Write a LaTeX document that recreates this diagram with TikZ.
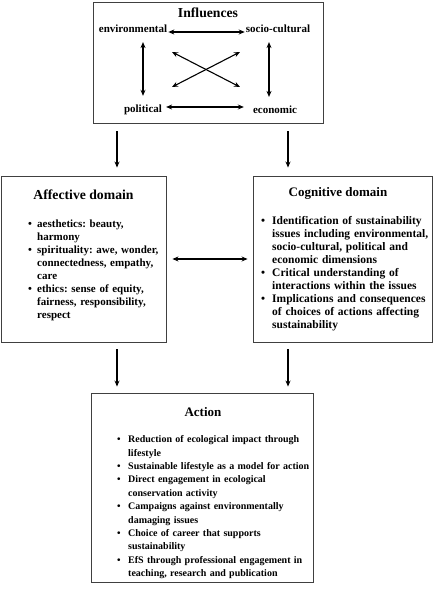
\documentclass[tikz,border=0pt]{standalone}
\usepackage{fontspec}
\setmainfont{Liberation Serif}
\usetikzlibrary{arrows.meta}
\newcommand\litem[1]{\par\noindent\llap{\makebox[\leftskip][l]{\textbullet}}#1\par}
\tikzset{
  boxshape/.style={draw=black!75, line width=0.9pt, inner sep=0pt, fill=white},
  titletext/.style={font=\fontsize{13.7}{16}\selectfont\bfseries, inner sep=0pt},
  labeltext/.style={font=\fontsize{11}{13}\selectfont\bfseries, inner sep=1pt},
  listtext/.style={inner sep=0pt, anchor=north west, text width=220pt,
    execute at begin node={\raggedright\leftskip=#1\relax\frenchspacing\hyphenpenalty=10000\parindent=0pt}},
  tip/.style={line width=1.1pt, -{Stealth[length=6pt,width=5pt]}},
  bitip/.style={line width=1.1pt, {Stealth[length=6pt,width=5pt]}-{Stealth[length=6pt,width=5pt]}}
}
\begin{document}
\begin{tikzpicture}[x=1pt,y=-1pt]
\useasboundingbox (0,0) rectangle (434,593);
% boxes
\node[boxshape, minimum width=230pt, minimum height=121pt] (inf) at (208,62.5) {};
\node[boxshape, minimum width=165pt, minimum height=166pt] (aff) at (83.5,259) {};
\node[boxshape, minimum width=179pt, minimum height=166pt] (cog) at (342.5,259) {};
\node[boxshape, minimum width=222pt, minimum height=189pt] (act) at (202,487.5) {};
% influences
\node[titletext] (inft) at (208,13) {Influences};
\node[labeltext] (env) at (133,29) {environmental};
\node[labeltext] (soc) at (278,29) {socio-cultural};
\node[labeltext] (pol) at (143,110) {political};
\node[labeltext] (eco) at (275,110) {economic};
\coordinate (vl) at (143,0);
\coordinate (vr) at (269,0);
\coordinate (xa) at (172,52);
\coordinate (xb) at (240,87);
\coordinate (xc) at (240,52);
\coordinate (xd) at (172,87);
\draw[bitip] ([yshift=-3pt]env.east) -- ([yshift=-3pt]soc.west);
\draw[bitip] ([xshift=3pt,yshift=3pt]pol.east) -- ([xshift=-8pt,yshift=3pt]eco.west);
\draw[bitip] ([yshift=-8pt]env.south -| vl) -- ([yshift=8pt]pol.north -| vl);
\draw[bitip] ([yshift=-8pt]soc.south -| vr) -- ([yshift=8pt]eco.north -| vr);
\draw[bitip] (xa) -- (xb);
\draw[bitip] (xc) -- (xd);
% titles
\node[titletext] (afft) at (83.5,195) {Affective domain};
\node[titletext, font=\fontsize{13}{16}\selectfont\bfseries] (cogt) at (338,193) {Cognitive domain};
\node[titletext, font=\fontsize{13}{16}\selectfont\bfseries] (actt) at (203,412) {Action};
% lists
\node[listtext=9pt, font=\fontsize{11}{13}\selectfont\bfseries] (affl) at (28,214) {%
\litem{aesthetics: beauty,\newline harmony}%
\litem{spirituality: awe, wonder,\newline connectedness, empathy,\newline care}%
\litem{ethics: sense of equity,\newline fairness, responsibility,\newline respect}};
\node[listtext=11pt, font=\fontsize{11.5}{13}\selectfont\bfseries] (cogl) at (261,211) {%
\litem{Identification of sustainability\newline issues including environmental,\newline socio-cultural, political and\newline economic dimensions}%
\litem{Critical understanding of\newline interactions within the issues}%
\litem{Implications and consequences\newline of choices of actions affecting\newline sustainability}};
\node[listtext=11pt, font=\fontsize{10}{13.4}\selectfont\bfseries] (actl) at (117,429) {%
\litem{Reduction of ecological impact through\newline lifestyle}%
\litem{Sustainable lifestyle as a model for action}%
\litem{Direct engagement in ecological\newline conservation activity}%
\litem{Campaigns against environmentally\newline damaging issues}%
\litem{Choice of career that supports\newline sustainability}%
\litem{EfS through professional engagement in\newline teaching, research and publication}};
% connectors
\coordinate (cl) at (117,0);
\coordinate (cr) at (288,0);
\draw[tip] ([yshift=-8pt]inf.south -| cl) -- ([yshift=8pt]aff.north -| cl);
\draw[tip] ([yshift=-8pt]inf.south -| cr) -- ([yshift=8pt]cog.north -| cr);
\draw[bitip] ([xshift=6pt]aff.east) -- ([xshift=-5pt]cog.west);
\draw[tip] ([yshift=-7pt]aff.south -| cl) -- ([yshift=6pt]act.north -| cl);
\draw[tip] ([yshift=-7pt]cog.south -| cr) -- ([yshift=6pt]act.north -| cr);
\end{tikzpicture}
\end{document}
